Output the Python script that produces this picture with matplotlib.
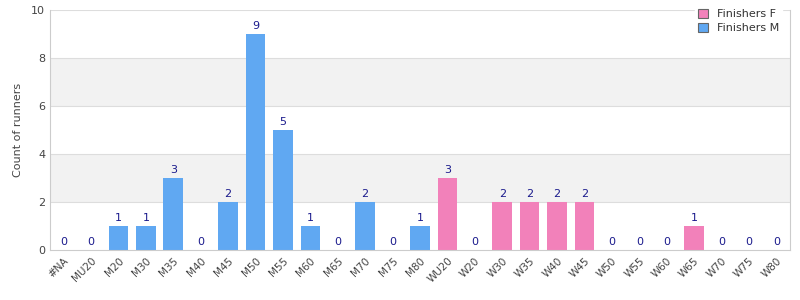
import matplotlib
matplotlib.use("Agg")
import matplotlib.pyplot as plt
import numpy as np

categories = ["#NA", "MU20", "M20", "M30", "M35", "M40", "M45", "M50", "M55", "M60", "M65",
              "M70", "M75", "M80", "WU20", "W20", "W30", "W35", "W40", "W45", "W50", "W55",
              "W60", "W65", "W70", "W75", "W80"]
male_cats = categories[:14]
female_cats = categories[14:]
finishers_m = [0, 0, 1, 1, 3, 0, 2, 9, 5, 1, 0, 2, 0, 1]
finishers_f = [3, 0, 2, 2, 2, 2, 0, 0, 0, 1, 0, 0, 0]

fig = plt.figure(figsize=(8, 3), dpi=100)
ax = fig.add_axes([0.0625, 0.1667, 0.925, 0.8])

xm = np.array([categories.index(c) for c in male_cats])
xf = np.array([categories.index(c) for c in female_cats])

blue = "#60a8f2"
pink = "#f281ba"
lab = "#1a1a8c"

# bands
for lo in (2, 6):
    ax.axhspan(lo, lo + 2, color="#f2f2f2", zorder=0, lw=0)
for y in (2, 4, 6, 8, 10):
    ax.axhline(y, color="#dddddd", lw=0.8, zorder=0.5)

bm = ax.bar(xm, finishers_m, width=0.72, color=blue, label="Finishers M", zorder=2)
bf = ax.bar(xf, finishers_f, width=0.72, color=pink, label="Finishers F", zorder=2)

for x, v in zip(xm, finishers_m):
    ax.text(x, v + 0.12, str(v), ha="center", va="bottom", fontsize=8, color=lab)
for x, v in zip(xf, finishers_f):
    ax.text(x, v + 0.12, str(v), ha="center", va="bottom", fontsize=8, color=lab)

ax.set_xlim(-0.5, len(categories) - 0.5)
ax.set_ylim(0, 10)
ax.set_yticks([0, 2, 4, 6, 8, 10])
ax.set_xticks(range(len(categories)))
ax.set_xticklabels(categories, rotation=45, ha="right", rotation_mode="anchor", fontsize=7.5, color="#444444")
ax.tick_params(axis="y", labelsize=8, colors="#444444", length=0)
ax.tick_params(axis="x", length=0, pad=4)
ax.set_ylabel("Count of runners", fontsize=8, color="#444444", labelpad=6)

for s in ax.spines.values():
    s.set_color("#cccccc")
    s.set_linewidth(0.8)
ax.spines["top"].set_visible(False)

handles = [bf, bm]
leg = fig.legend(handles, ["Finishers F", "Finishers M"], loc="upper right",
                 bbox_to_anchor=(0.985, 1.0), fontsize=8, frameon=True,
                 handlelength=0.9, handleheight=0.9, borderpad=0.3, labelspacing=0.3,
                 handletextpad=0.8, fancybox=False)
leg.get_frame().set_edgecolor("white")
leg.get_frame().set_facecolor("white")
leg.get_frame().set_alpha(1)
for h in leg.legend_handles:
    h.set_edgecolor("#666666")
    h.set_linewidth(0.8)
for t in leg.get_texts():
    t.set_color("#333333")

fig.savefig("out.png", dpi=100)
